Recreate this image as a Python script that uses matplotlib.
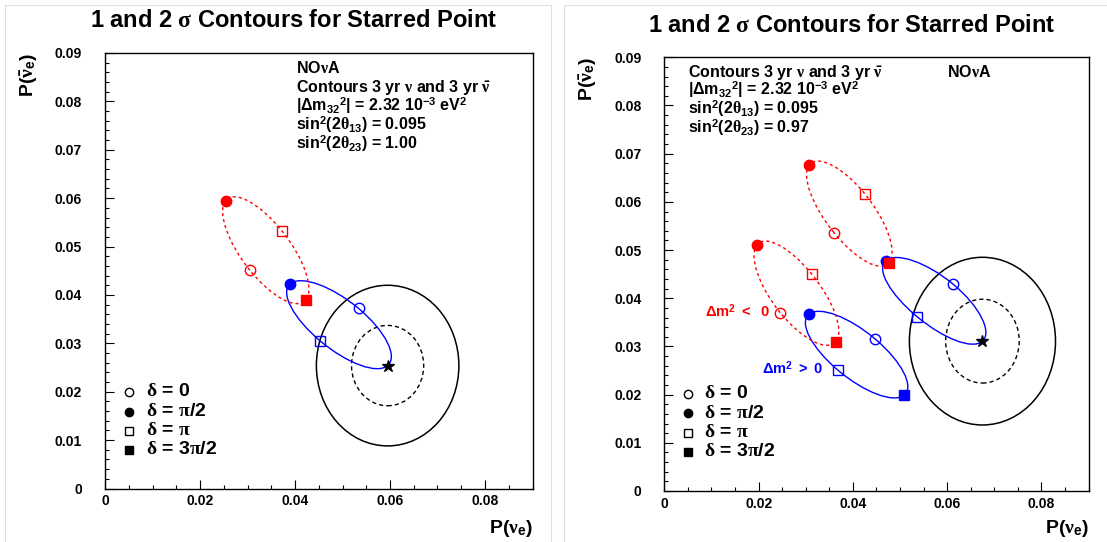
import numpy as np
import matplotlib
matplotlib.use('Agg')
import matplotlib.pyplot as plt
from matplotlib.path import Path
from matplotlib.patches import PathPatch, Ellipse, Rectangle
from matplotlib.ticker import MultipleLocator, FuncFormatter

plt.rcParams['font.family'] = ['Liberation Sans', 'DejaVu Sans']
plt.rcParams['font.weight'] = 'bold'
plt.rcParams['mathtext.fontset'] = 'custom'
plt.rcParams['mathtext.rm'] = 'Liberation Sans:bold'
plt.rcParams['mathtext.bf'] = 'Liberation Sans:bold'
plt.rcParams['mathtext.sf'] = 'Liberation Sans:bold'
plt.rcParams['mathtext.it'] = 'Liberation Serif'

# (P(nu_e), P(nubar_e)) at delta = 0, pi/2, pi, 3pi/2
# left: sin^2(2th23) = 1.00
L_NH = [(0.0534, 0.0372), (0.0390, 0.0423), (0.0453, 0.0305), (0.0595, 0.0254)]
L_IH = [(0.0305, 0.0451), (0.0254, 0.0595), (0.0372, 0.0533), (0.0423, 0.0390)]
L_SIG1 = (0.0076, 0.0083)   # half widths of 1 sigma contour
L_SIG2 = (0.0150, 0.0166)   # half widths of 2 sigma contour

# right: sin^2(2th23) = 0.97, two octants
R_NH_A = [(0.0613, 0.0429), (0.0470, 0.0478), (0.0536, 0.0362), (0.0675, 0.0311)]
R_NH_B = [(0.0448, 0.0315), (0.0307, 0.0367), (0.0368, 0.0251), (0.0509, 0.0199)]
R_IH_A = [(0.0360, 0.0536), (0.0308, 0.0677), (0.0426, 0.0616), (0.0477, 0.0474)]
R_IH_B = [(0.0246, 0.0370), (0.0197, 0.0511), (0.0313, 0.0450), (0.0364, 0.0310)]
R_SIG1 = (0.0078, 0.0087)
R_SIG2 = (0.0155, 0.0174)

DELTA_LABELS = [r'$\delta$ = 0', r'$\delta$ = $\pi$/2', r'$\delta$ = $\pi$', r'$\delta$ = 3$\pi$/2']
MARKERS = [('o', False), ('o', True), ('s', False), ('s', True)]

W, H = 1107, 542
fig = plt.figure(figsize=(W / 100, H / 100), dpi=100)


def fx(px):
    return px / W


def fy(py):
    return 1 - py / H


# ellipse through the four delta points, one cubic bezier per quarter
K = 0.5523


def delta_path(pts):
    p = np.asarray(pts, dtype=float)
    u = (p[0] - p[2]) / 2
    v = (p[1] - p[3]) / 2
    tang = [v, -u, -v, u]
    verts, codes = [p[0]], [Path.MOVETO]
    for i in range(4):
        j = (i + 1) % 4
        verts += [p[i] + K * tang[i], p[j] - K * tang[j], p[j]]
        codes += [Path.CURVE4] * 3
    return Path(verts, codes)


def draw_curve(ax, pts, color, ls, skip_last=False):
    ax.add_patch(PathPatch(delta_path(pts), fill=False, edgecolor=color,
                           lw=1.0, linestyle=ls, zorder=3))
    for k, (x, y) in enumerate(pts):
        if skip_last and k == 3:
            continue
        m, filled = MARKERS[k]
        ax.plot(x, y, marker=m, ms=7.5 if m == 'o' else 7.2, mew=1.0,
                mec=color, mfc=color if filled else 'none', ls='none', zorder=4)


def draw_star(ax, star, sig1, sig2):
    ax.add_patch(Ellipse(star, 2 * sig2[0], 2 * sig2[1], fill=False,
                         edgecolor='black', lw=1.1, zorder=2))
    ax.add_patch(Ellipse(star, 2 * sig1[0], 2 * sig1[1], fill=False,
                         edgecolor='black', lw=1.0, linestyle=(0, (3, 2.2)), zorder=2))


def make_axes(x0, y0, x1, y1):
    ax = fig.add_axes([fx(x0), fy(y1), (x1 - x0) / W, (y1 - y0) / H])
    ax.set_xlim(0, 0.09)
    ax.set_ylim(0, 0.09)
    ax.xaxis.set_major_locator(MultipleLocator(0.02))
    ax.xaxis.set_minor_locator(MultipleLocator(0.005))
    ax.yaxis.set_major_locator(MultipleLocator(0.01))
    ax.yaxis.set_minor_locator(MultipleLocator(0.002))
    fmt = FuncFormatter(lambda v, pos: '0' if abs(v) < 1e-9 else '%g' % round(v, 3))
    ax.xaxis.set_major_formatter(fmt)
    ax.yaxis.set_major_formatter(fmt)
    ax.tick_params(which='both', direction='in', top=False, right=False,
                   width=0.8, labelsize=10)
    ax.tick_params(which='major', length=6.5)
    ax.tick_params(which='minor', length=3.2)
    ax.tick_params(axis='y', pad=16.5)
    ax.tick_params(axis='x', pad=4)
    for s in ax.spines.values():
        s.set_linewidth(1.0)
    return ax


def ax_frac(ax, px, py, x0, y0, x1, y1):
    return (px - x0) / (x1 - x0), (y1 - py) / (y1 - y0)


def put(ax, box, px, py, s, **kw):
    xa, ya = ax_frac(ax, px, py, *box)
    ax.text(xa, ya, s, transform=ax.transAxes, **kw)


def legend(ax, mx, tx, rows):
    for k, py in enumerate(rows):
        m, filled = MARKERS[k]
        ax.plot(mx, py, marker=m, ms=6, mew=1.0, mec='black',
                mfc='black' if filled else 'none', ls='none',
                transform=ax.transAxes, clip_on=False)
        ax.text(tx, py, DELTA_LABELS[k], fontsize=14, va='center',
                transform=ax.transAxes)


# panel frames
for x0, x1 in [(5, 551), (564, 1112)]:
    fig.add_artist(Rectangle((fx(x0), fy(547)), (x1 - x0) / W, (547 - 5) / H,
                             transform=fig.transFigure, fill=False,
                             edgecolor='#dedede', lw=0.8))

title = r'1 and 2 $\sigma$ Contours for Starred Point'
xlab = r'P($\nu_{\mathrm{e}}$)'
ylab = r'P($\bar{\nu}_{\mathrm{e}}$)'
info_fs = 11.5

# ---------------- left panel ----------------
boxL = (105, 53, 532.5, 488.5)
axL = make_axes(*boxL)
draw_star(axL, L_NH[3], L_SIG1, L_SIG2)
draw_curve(axL, L_NH, 'blue', '-', skip_last=True)
draw_curve(axL, L_IH, 'red', (0, (2.2, 2.2)))
axL.plot(*L_NH[3], marker='*', ms=9, color='black', ls='none', zorder=5)

infoL = ['NO$\\nu$A',
         r'Contours 3 yr $\nu$ and 3 yr $\bar{\nu}$',
         r'|$\Delta$m$_{32}$$^{2}$| = 2.32 10$^{-3}$ eV$^{2}$',
         r'sin$^{2}$(2$\theta_{13}$) = 0.095',
         r'sin$^{2}$(2$\theta_{23}$) = 1.00']
for k, s in enumerate(infoL):
    put(axL, boxL, 296.5, 72.7 + 19.2 * k, s, fontsize=info_fs, va='baseline')

rowsL = [ax_frac(axL, 0, py, *boxL)[1] for py in (392, 411.7, 430.7, 450)]
legend(axL, ax_frac(axL, 129.3, 0, *boxL)[0], ax_frac(axL, 145.7, 0, *boxL)[0], rowsL)

fig.text(fx(294), fy(26.7), title, fontsize=17, ha='center', va='baseline')
fig.text(fx(532.5), fy(533), xlab, fontsize=14, ha='right', va='baseline')
fig.text(fx(29), fy(53), ylab, fontsize=14, ha='center', va='top', rotation=90)

# ---------------- right panel ----------------
boxR = (664.3, 57.3, 1088.5, 491)
axR = make_axes(*boxR)
draw_star(axR, R_NH_A[3], R_SIG1, R_SIG2)
draw_curve(axR, R_NH_A, 'blue', '-', skip_last=True)
draw_curve(axR, R_NH_B, 'blue', '-')
draw_curve(axR, R_IH_A, 'red', (0, (2.2, 2.2)))
draw_curve(axR, R_IH_B, 'red', (0, (2.2, 2.2)))
axR.plot(*R_NH_A[3], marker='*', ms=9, color='black', ls='none', zorder=5)

infoR = [r'Contours 3 yr $\nu$ and 3 yr $\bar{\nu}$',
         r'|$\Delta$m$_{32}$$^{2}$| = 2.32 10$^{-3}$ eV$^{2}$',
         r'sin$^{2}$(2$\theta_{13}$) = 0.095',
         r'sin$^{2}$(2$\theta_{23}$) = 0.97']
for k, s in enumerate(infoR):
    put(axR, boxR, 688.3, 76.7 + 18.8 * k, s, fontsize=info_fs, va='baseline')
put(axR, boxR, 947.2, 76.7, 'NO$\\nu$A', fontsize=info_fs, va='baseline')

put(axR, boxR, 705, 317.3, r'$\Delta$m$^{2}$ $<$  0', fontsize=10.5, va='baseline', color='red')
put(axR, boxR, 762.3, 374, r'$\Delta$m$^{2}$ $>$ 0', fontsize=10.5, va='baseline', color='blue')

rowsR = [ax_frac(axR, 0, py, *boxR)[1] for py in (394, 413.3, 432.7, 451.7)]
legend(axR, ax_frac(axR, 687.5, 0, *boxR)[0], ax_frac(axR, 704.4, 0, *boxR)[0], rowsR)

fig.text(fx(852), fy(32), title, fontsize=17, ha='center', va='baseline')
fig.text(fx(1088.5), fy(533), xlab, fontsize=14, ha='right', va='baseline')
fig.text(fx(588), fy(57), ylab, fontsize=14, ha='center', va='top', rotation=90)

fig.savefig('out.png', dpi=100)
